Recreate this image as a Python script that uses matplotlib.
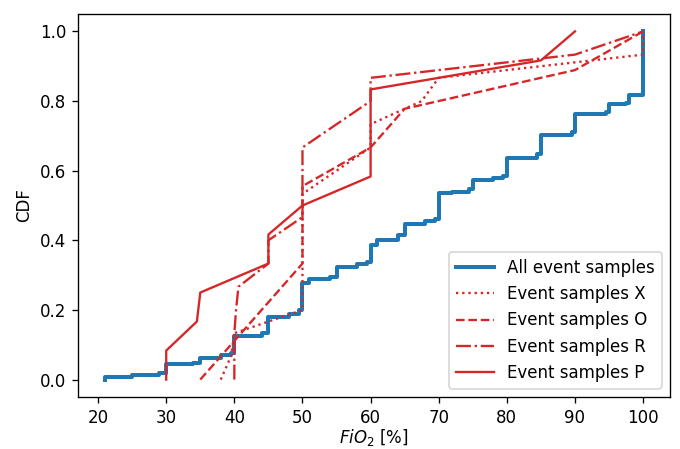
import numpy as np
import matplotlib
matplotlib.use('Agg')
import matplotlib.pyplot as plt

# ECDF of all event samples (FiO2 value -> cumulative fraction)
all_fio2 = [21, 21, 25, 29, 30, 34, 35, 38, 39.5, 40, 44, 45, 48, 49.5, 50, 51, 54, 55, 58,
            59.5, 60, 61, 64, 65, 68, 69.5, 70, 72, 74.5, 75, 78, 79.5, 80, 84.5, 85,
            89.5, 90, 94.5, 95, 97.5, 98, 100]
all_cdf = [0.0, 0.008, 0.012, 0.018, 0.044, 0.047, 0.063, 0.070, 0.076, 0.125, 0.133, 0.181,
           0.188, 0.200, 0.278, 0.288, 0.294, 0.323, 0.333, 0.339, 0.387, 0.401, 0.415,
           0.447, 0.455, 0.460, 0.535, 0.540, 0.546, 0.573, 0.578, 0.585, 0.637, 0.648,
           0.702, 0.710, 0.762, 0.769, 0.791, 0.795, 0.817, 1.0]

# sorted FiO2 samples per event type
samples_x = [38, 39.5, 40, 50, 50, 50, 50, 50, 50, 55, 60, 60, 67.5, 70, 100, 100]
samples_o = [35, 40, 45, 50, 50, 50, 60, 65, 90, 100]
samples_r = [40, 40, 40, 40.25, 40.6, 45, 45, 50, 50, 50, 50, 55, 60, 60, 90, 100]
samples_p = [30, 30, 34.5, 35, 45, 45, 50, 60, 60, 60, 60, 85, 90]

dpi = 120
fig = plt.figure(figsize=(680 / dpi, 449 / dpi), dpi=dpi)
ax = fig.add_axes([78 / 680, 52 / 449, 592 / 680, 383 / 449])

ax.plot(all_fio2, all_cdf, drawstyle='steps-post', color='tab:blue', lw=2.4,
        label='All event samples')

series = [(samples_x, ':', 'Event samples X'),
          (samples_o, '--', 'Event samples O'),
          (samples_r, '-.', 'Event samples R'),
          (samples_p, '-', 'Event samples P')]
for vals, ls, lab in series:
    ax.plot(vals, np.linspace(0, 1, len(vals)), ls, color='tab:red', lw=1.4, label=lab)

# labelpad small so the label stays inside the image
ax.set_xlabel('$FiO_2$ [%]', labelpad=0.5)
ax.set_ylabel('CDF')
ax.legend(loc='lower right', handlelength=2.3)

plt.savefig('out.png', dpi=dpi)
